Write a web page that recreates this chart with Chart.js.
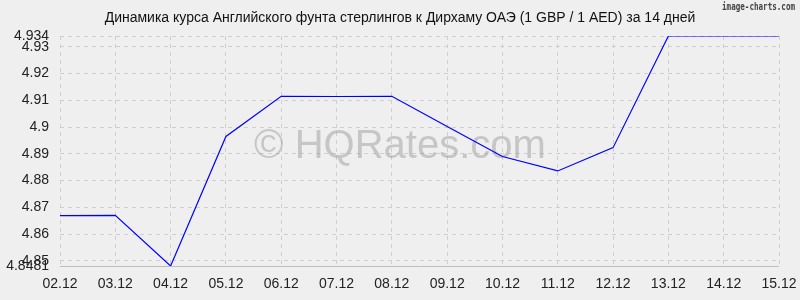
<!DOCTYPE html>
<html>
<head>
<meta charset="utf-8">
<script src="https://cdn.jsdelivr.net/npm/chart.js@4"></script>
<style>
  html, body { margin: 0; padding: 0; background: #efefef; }
  #wrap { width: 800px; height: 300px; }
</style>
</head>
<body>
<div id="wrap"><canvas id="rateChart" width="800" height="300"></canvas></div>
<script>
const days = ['02.12', '03.12', '04.12', '05.12', '06.12', '07.12', '08.12',
              '09.12', '10.12', '11.12', '12.12', '13.12', '14.12', '15.12'];
const rates = [4.8669, 4.8670, 4.8481, 4.8965, 4.9115, 4.9114, 4.9115,
               4.9002, 4.8890, 4.8836, 4.8923, 4.9340, 4.9340, 4.9340];
const yTicks = [4.8481, 4.85, 4.86, 4.87, 4.88, 4.89, 4.9, 4.91, 4.92, 4.93, 4.934];
const titleText = 'Динамика курса Английского фунта стерлингов к Дирхаму ОАЭ (1 GBP / 1 AED) за 14 дней';

Chart.defaults.font.family = '"Liberation Sans", Arial, sans-serif';
Chart.defaults.font.size = 14;
Chart.defaults.color = '#222';

// background, watermark, title, site label and the solid bottom axis line
const decor = {
    id: 'decor',
    beforeDraw(chart) {
        const ctx = chart.ctx;
        ctx.save();
        ctx.fillStyle = '#efefef';
        ctx.fillRect(0, 0, chart.width, chart.height);
        ctx.restore();
    },
    beforeDatasetsDraw(chart) {
        const ctx = chart.ctx;
        const a = chart.chartArea;
        ctx.save();
        ctx.strokeStyle = '#bdbdbd';
        ctx.lineWidth = 1;
        ctx.beginPath();
        ctx.moveTo(a.left, Math.round(a.bottom) + 0.5);
        ctx.lineTo(a.right, Math.round(a.bottom) + 0.5);
        ctx.stroke();
        ctx.font = '40px "Liberation Sans", Arial, sans-serif';
        ctx.fillStyle = 'rgba(140, 140, 140, 0.42)';
        ctx.textAlign = 'center';
        ctx.textBaseline = 'middle';
        ctx.fillText('© HQRates.com', 400, 147);
        ctx.restore();
    },
    afterDraw(chart) {
        const ctx = chart.ctx;
        ctx.save();
        ctx.fillStyle = '#111';
        ctx.font = '14px "Liberation Sans", Arial, sans-serif';
        ctx.textAlign = 'center';
        ctx.textBaseline = 'middle';
        ctx.fillText(titleText, 400, 18);
        ctx.font = 'bold 11px "DejaVu Sans Mono", monospace';
        ctx.fillStyle = '#444';
        ctx.textAlign = 'right';
        ctx.fillText('image-charts.com', 795, 7, 73);
        ctx.restore();
    }
};

new Chart(document.getElementById('rateChart'), {
    type: 'line',
    data: {
        labels: days,
        datasets: [{
            data: rates,
            borderColor: '#0000ff',
            borderWidth: 1.2,
            pointRadius: 0,
            tension: 0,
            fill: false
        }]
    },
    options: {
        responsive: false,
        animation: false,
        layout: { padding: { top: 36, right: 0, left: 0, bottom: 0 } },
        plugins: {
            legend: { display: false },
            title: { display: false },
            tooltip: { enabled: false }
        },
        scales: {
            x: {
                offset: false,
                grid: { color: '#cfcfcf', drawTicks: false },
                border: { display: false, dash: [4, 4] },
                ticks: { padding: 10, maxRotation: 0, autoSkip: false },
                afterFit(scale) {
                    scale.height = 34;
                    scale.paddingLeft = 0;
                    scale.paddingRight = 21;
                }
            },
            y: {
                min: 4.8481,
                max: 4.934,
                grid: { color: '#cfcfcf', drawTicks: false },
                border: { display: false, dash: [4, 4] },
                ticks: { padding: 11, callback: v => String(v) },
                afterBuildTicks(scale) { scale.ticks = yTicks.map(v => ({ value: v })); },
                afterFit(scale) { scale.width = 60; }
            }
        }
    },
    plugins: [decor]
});
</script>
</body>
</html>
